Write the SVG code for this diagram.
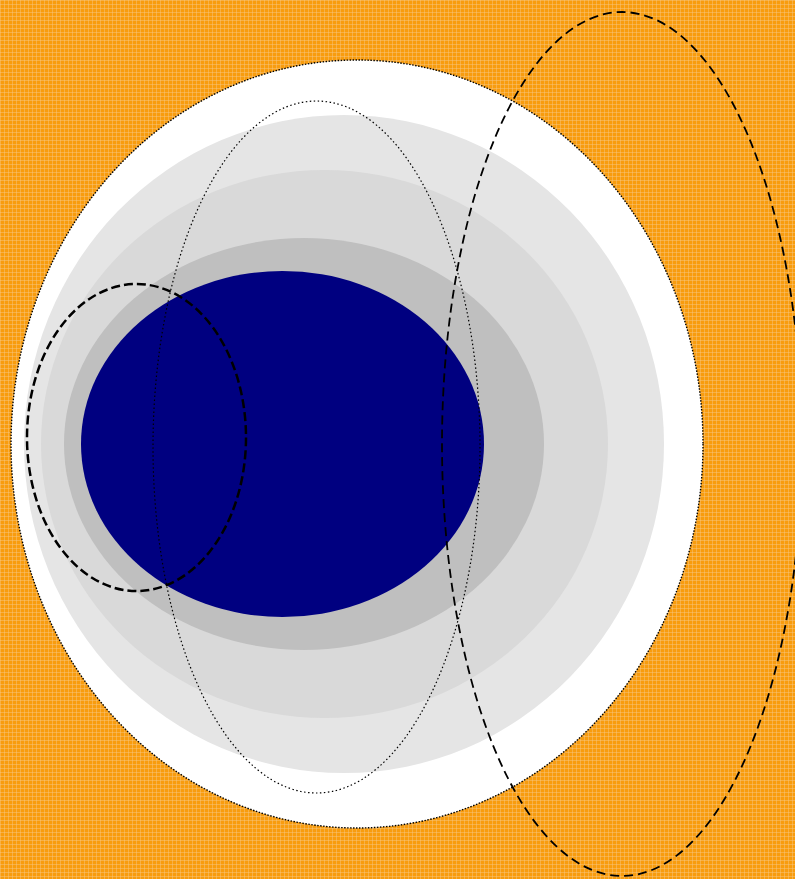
<svg xmlns="http://www.w3.org/2000/svg" width="795" height="879" viewBox="0 0 795 879">
<defs>
<pattern id="grid" width="4" height="4" patternUnits="userSpaceOnUse">
<rect width="4" height="4" fill="#f89c0e"/>
<rect x="0" y="0" width="4" height="1" fill="#f6c888" opacity="0.45"/>
<rect x="0" y="0" width="1" height="4" fill="#f6c888" opacity="0.45"/>
</pattern>
</defs>
<style>
.dash{fill:none;stroke:#000;}
</style>
<rect id="background" width="795" height="879" fill="url(#grid)"/>
<g id="rings">
<ellipse id="outer" cx="357" cy="444" rx="346" ry="384" fill="#fff" stroke="#000" stroke-width="1.4" stroke-dasharray="1.5 1.5"/>
<ellipse id="ring1" cx="344" cy="444" rx="320" ry="329" fill="#e5e5e5"/>
<ellipse id="ring2" cx="324.5" cy="444" rx="283.5" ry="274" fill="#d9d9d9"/>
<ellipse id="ring3" cx="304" cy="444" rx="240" ry="206" fill="#bfbfbf"/>
<ellipse id="core" cx="282.5" cy="444" rx="201.5" ry="173" fill="#000080"/>
</g>
<g id="connectors">
<ellipse id="tall-dotted" cx="316.5" cy="447" rx="163.5" ry="346" class="dash" stroke-width="1.2" stroke-dasharray="1.5 2.5"/>
<ellipse id="small-dashed" cx="136.5" cy="437.5" rx="109.5" ry="153.5" class="dash" stroke-width="2.5" stroke-dasharray="9 4"/>
<ellipse id="big-dashed" cx="622" cy="444" rx="180" ry="432" class="dash" stroke-width="1.8" stroke-dasharray="9 5"/>
</g>
</svg>
